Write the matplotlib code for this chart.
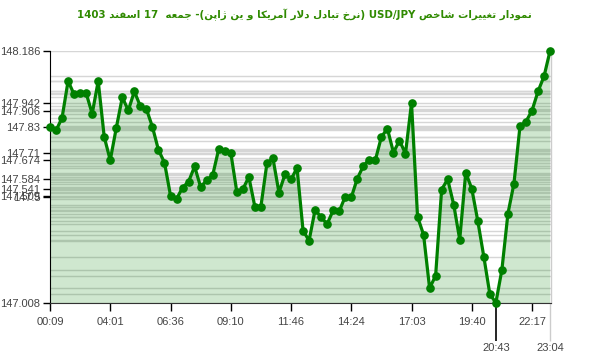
import matplotlib
matplotlib.use("Agg")
import matplotlib.pyplot as plt

# ---------------- data ----------------
times_ticks = ["00:09", "04:01", "06:36", "09:10", "11:46", "14:24", "17:03", "19:40", "22:17"]
special_labels = ["20:43", "23:04"]
values = [
    147.830, 147.813, 147.872, 148.044, 147.982, 147.988, 147.988, 147.891, 148.044, 147.783,
    147.674, 147.825, 147.968, 147.907, 147.996, 147.926, 147.913, 147.830, 147.722, 147.663,
    147.509, 147.493, 147.546, 147.574, 147.645, 147.549, 147.580, 147.604, 147.726, 147.716,
    147.710, 147.527, 147.538, 147.596, 147.457, 147.457, 147.659, 147.683, 147.523, 147.608,
    147.584, 147.638, 147.345, 147.298, 147.443, 147.407, 147.376, 147.440, 147.435, 147.504,
    147.500, 147.588, 147.647, 147.677, 147.675, 147.783, 147.822, 147.710, 147.766, 147.705,
    147.942, 147.410, 147.326, 147.076, 147.134, 147.537, 147.585, 147.467, 147.303, 147.616,
    147.541, 147.390, 147.223, 147.048, 147.008, 147.162, 147.424, 147.565, 147.832, 147.855,
    147.906, 147.996, 148.067, 148.186,
]
ytick_labels = ["148.186", "147.942", "147.906", "147.83", "147.71", "147.674",
                "147.584", "147.541", "147.509", "147.5", "147.008"]

# ---------------- Persian shaping helpers ----------------
FORMS = {
    'ا': ('\uFE8D', '\uFE8E', None, None),
    'آ': ('\uFE81', '\uFE82', None, None),
    'ب': ('\uFE8F', '\uFE90', '\uFE91', '\uFE92'),
    'پ': ('\uFB56', '\uFB57', '\uFB58', '\uFB59'),
    'ت': ('\uFE95', '\uFE96', '\uFE97', '\uFE98'),
    'ج': ('\uFE9D', '\uFE9E', '\uFE9F', '\uFEA0'),
    'خ': ('\uFEA5', '\uFEA6', '\uFEA7', '\uFEA8'),
    'د': ('\uFEA9', '\uFEAA', None, None),
    'ر': ('\uFEAD', '\uFEAE', None, None),
    'ز': ('\uFEAF', '\uFEB0', None, None),
    'ژ': ('\uFB8A', '\uFB8B', None, None),
    'س': ('\uFEB1', '\uFEB2', '\uFEB3', '\uFEB4'),
    'ش': ('\uFEB5', '\uFEB6', '\uFEB7', '\uFEB8'),
    'ص': ('\uFEB9', '\uFEBA', '\uFEBB', '\uFEBC'),
    'ع': ('\uFEC9', '\uFECA', '\uFECB', '\uFECC'),
    'غ': ('\uFECD', '\uFECE', '\uFECF', '\uFED0'),
    'ف': ('\uFED1', '\uFED2', '\uFED3', '\uFED4'),
    'ک': ('\uFB8E', '\uFB8F', '\uFB90', '\uFB91'),
    'ل': ('\uFEDD', '\uFEDE', '\uFEDF', '\uFEE0'),
    'م': ('\uFEE1', '\uFEE2', '\uFEE3', '\uFEE4'),
    'ن': ('\uFEE5', '\uFEE6', '\uFEE7', '\uFEE8'),
    'و': ('\uFEED', '\uFEEE', None, None),
    'ه': ('\uFEE9', '\uFEEA', '\uFEEB', '\uFEEC'),
    'ی': ('\uFBFC', '\uFBFD', '\uFBFE', '\uFBFF'),
}


def dual(c):
    return c in FORMS and FORMS[c][2] is not None


def shape(word):
    out = []
    i = 0
    n = len(word)
    while i < n:
        c = word[i]
        prev_conn = i > 0 and dual(word[i - 1])
        if c == 'ل' and i + 1 < n and word[i + 1] in ('ا', 'آ'):
            if word[i + 1] == 'ا':
                out.append('\uFEFC' if prev_conn else '\uFEFB')
            else:
                out.append('\uFEF6' if prev_conn else '\uFEF5')
            i += 2
            continue
        if c not in FORMS:
            out.append(c)
            i += 1
            continue
        iso, fin, ini, med = FORMS[c]
        next_conn = i + 1 < n and word[i + 1] in FORMS
        if ini is None:
            out.append(fin if prev_conn else iso)
        else:
            if prev_conn and next_conn:
                out.append(med)
            elif prev_conn:
                out.append(fin)
            elif next_conn:
                out.append(ini)
            else:
                out.append(iso)
        i += 1
    return ''.join(out)


def W(word):
    return shape(word)[::-1]


title_visual = ''.join([
    "1403", " ", W("اسفند"), " ", "17", "  ", W("جمعه"), " ", "-(", W("ژاپن"), " ",
    W("ین"), " ", W("و"), " ", W("آمریکا"), " ", W("دلار"), " ", W("تبادل"), " ",
    W("نرخ"), ") ", "USD/JPY", " ", W("شاخص"), " ", W("تغییرات"), " ", W("نمودار"),
])

# ---------------- figure ----------------
fig = plt.figure(figsize=(6.0, 3.52), dpi=100)
ax = fig.add_axes([50 / 600, 1 - 302.7 / 352, 501 / 600, (302.7 - 50.7) / 352])

x = list(range(len(values)))
ymin, ymax = 147.008, 148.186

for v in values:
    ax.axhline(v, color="#d6d6d6", lw=1.0, zorder=0.5)

ax.fill_between(x, values, ymin - 1, color="#008000", alpha=0.19, lw=0, zorder=1)
ax.plot(x, values, color="#008000", lw=2.3, marker="o", ms=5.2,
        solid_joinstyle="round", zorder=3, clip_on=False)

ax.set_xlim(0, 83.15)
ax.set_ylim(ymin, ymax)

# y ticks
ax.set_yticks([float(s) for s in ytick_labels])
ax.set_yticklabels(ytick_labels)
ax.tick_params(axis="y", direction="out", length=5, width=1, color="black",
               labelsize=8, labelcolor="#444444", pad=2)

# x ticks
tick_idx = list(range(0, 81, 10))
ax.set_xticks(tick_idx)
ax.set_xticklabels(times_ticks)
ax.set_xticks([74, 83], minor=True)
ax.set_xticklabels(special_labels, minor=True)
ax.tick_params(axis="x", which="major", direction="out", length=6, width=1,
               color="black", labelsize=8, labelcolor="#444444", pad=4)
ax.tick_params(axis="x", which="minor", direction="out", length=27, width=1.2,
               color="black", labelsize=8, labelcolor="#444444", pad=2)

for lab in ax.get_xticklabels() + ax.get_xticklabels(minor=True) + ax.get_yticklabels():
    lab.set_fontfamily("Liberation Sans")

ax.spines["top"].set_visible(False)
ax.spines["right"].set_color("#cccccc")
ax.spines["right"].set_linewidth(1)
ax.spines["left"].set_color("black")
ax.spines["bottom"].set_color("#333333")
ax.set_facecolor("white")

fig.text(0.508, 0.958, title_visual, ha="center", va="center", fontsize=7.4,
         fontweight="bold", color="#2f8a00", family=["DejaVu Sans"])

fig.canvas.draw()
mt = ax.xaxis.get_minor_ticks()
mt[1].tick1line.set_markeredgecolor("#cccccc")
mt[1].tick1line.set_markeredgewidth(1)

fig.savefig("out.png", dpi=100)
